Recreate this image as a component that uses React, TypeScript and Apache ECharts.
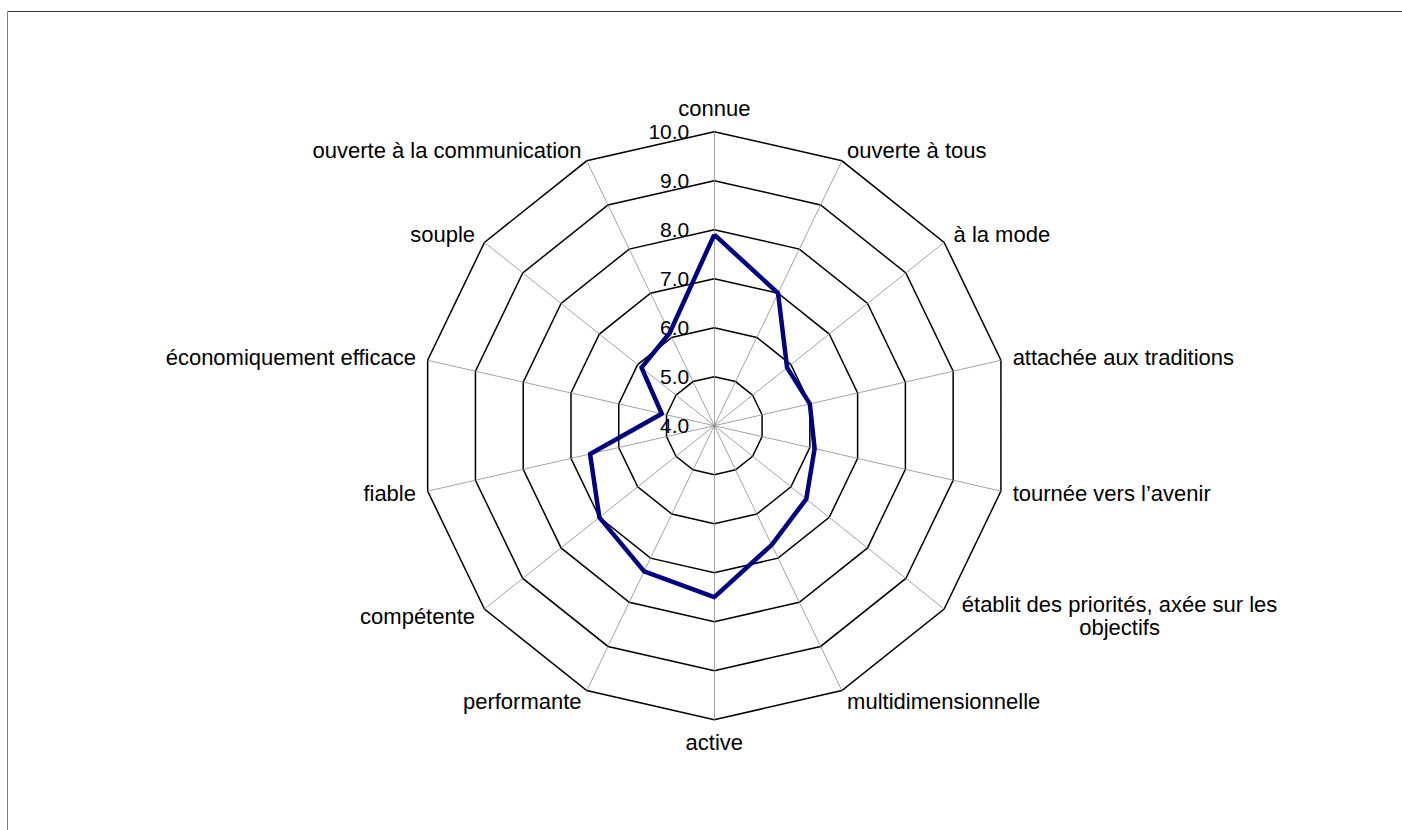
import React, { useEffect, useRef } from "react";
import * as echarts from "echarts";

// Categories in clockwise order starting at the top
const categories: string[] = [
  "connue",
  "ouverte à tous",
  "à la mode",
  "attachée aux traditions",
  "tournée vers l’avenir",
  "établit des priorités, axée sur les\nobjectifs",
  "multidimensionnelle",
  "active",
  "performante",
  "compétente",
  "fiable",
  "économiquement efficace",
  "souple",
  "ouverte à la communication",
];

const values: number[] = [7.9, 7.0, 5.9, 6.0, 6.1, 6.4, 6.7, 7.5, 7.3, 7.0, 6.6, 5.1, 5.9, 6.1];

const axisMin = 4;
const axisMax = 10;
const tickStep = 1;

const FONT = "'Liberation Sans', Arial, sans-serif";

export default function App() {
  const ref = useRef<HTMLDivElement>(null);

  useEffect(() => {
    document.body.style.margin = "0";
    if (!ref.current) return;
    const chart = echarts.init(ref.current, undefined, { renderer: "svg" });

    // ECharts radar goes counter-clockwise; reorder so the picture reads clockwise
    const order = [0, ...Array.from({ length: categories.length - 1 }, (_, i) => categories.length - 1 - i)];
    const indicators = order.map((i) => ({ name: categories[i], min: axisMin, max: axisMax }));
    const seriesValues = order.map((i) => values[i]);

    const cx = 714.3;
    const cy = 425.7;
    const R = 294;

    chart.setOption({
      animation: false,
      backgroundColor: "#ffffff",
      textStyle: { fontFamily: FONT },
      graphic: [
        { type: "line", shape: { x1: 7.5, y1: 11.5, x2: 1402, y2: 11.5 }, style: { stroke: "#333333", lineWidth: 1 } },
        { type: "line", shape: { x1: 7.5, y1: 11.5, x2: 7.5, y2: 830 }, style: { stroke: "#808080", lineWidth: 1 } },
      ],
      radar: {
        center: [cx, cy],
        radius: R,
        startAngle: 90,
        shape: "polygon",
        splitNumber: (axisMax - axisMin) / tickStep,
        indicator: indicators,
        axisName: {
          color: "#000",
          fontSize: 22,
          fontFamily: FONT,
          formatter: (name: string) => {
            if (name.indexOf("\n") >= 0) {
              return name
                .split("\n")
                .map((l) => "{c|" + l + "}")
                .join("\n");
            }
            return name;
          },
          rich: {
            c: { width: 332, align: "center", fontSize: 22, fontFamily: FONT, color: "#000", lineHeight: 23 },
          },
        },
        nameGap: 12,
        axisLine: { lineStyle: { color: "#8c8c8c", width: 0.8 } },
        axisTick: { show: false },
        axisLabel: { show: false },
        splitLine: { lineStyle: { color: "#000", width: 1.5 } },
        splitArea: { show: false },
      },
      polar: { center: [cx, cy], radius: R },
      angleAxis: { show: false, startAngle: 90, min: 0, max: 360 },
      radiusAxis: {
        min: axisMin,
        max: axisMax,
        interval: tickStep,
        axisLine: { show: false },
        axisTick: { show: false },
        splitLine: { show: false },
        axisLabel: {
          show: true,
          margin: 25,
          fontSize: 21,
          fontFamily: FONT,
          color: "#000",
          formatter: (v: number) => v.toFixed(1),
        },
      },
      series: [
        {
          type: "radar",
          symbol: "none",
          lineStyle: { color: "#000080", width: 4.5 },
          data: [{ value: seriesValues, name: "score" }],
        },
      ],
    });

    return () => chart.dispose();
  }, []);

  return <div ref={ref} style={{ width: 1402, height: 830 }} />;
}
